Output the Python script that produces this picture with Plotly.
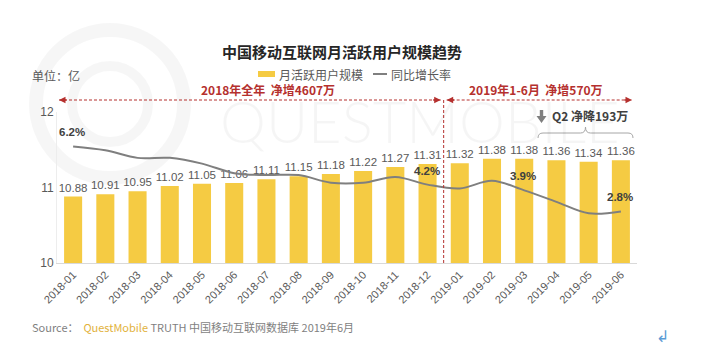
import plotly.graph_objects as go

months = ["2018-01", "2018-02", "2018-03", "2018-04", "2018-05", "2018-06",
          "2018-07", "2018-08", "2018-09", "2018-10", "2018-11", "2018-12",
          "2019-01", "2019-02", "2019-03", "2019-04", "2019-05", "2019-06"]
mau = [10.88, 10.91, 10.95, 11.02, 11.05, 11.06, 11.11, 11.15, 11.18, 11.22,
       11.27, 11.31, 11.32, 11.38, 11.38, 11.36, 11.34, 11.36]
growth = [6.2, 6.0, 5.6, 5.6, 5.3, 4.8, 4.7, 4.7, 4.3, 4.3, 4.6, 4.2,
          4.0, 4.4, 3.9, 3.3, 2.7, 2.8]
growth_labels = {0: "6.2%", 11: "4.2%", 14: "3.9%", 17: "2.8%"}

FONT = "Liberation Sans, Noto Sans CJK SC, sans-serif"
CJK = "Noto Sans CJK SC, sans-serif"
RED = "#B5302E"
GREY = "#595959"
BAR = "#F5CB43"
LINE = "#7F7F7F"

# plot area in pixels: x 57..637, y 112..263
L, R, T, B = 57, 637, 112, 263
W, H = 710, 354


def px(x):
    return (x - L) / (R - L)


def py(y):
    return (B - y) / (B - T)


def note(x, y, text, size=12, color=GREY, family=CJK, xanchor="center", **kw):
    return dict(x=px(x), y=py(y), xref="paper", yref="paper", text=text, showarrow=False,
                xanchor=xanchor, yanchor="middle", font=dict(size=size, color=color, family=family), **kw)


fig = go.Figure()
fig.add_trace(go.Bar(
    x=months, y=mau, name="月活跃用户规模",
    marker=dict(color=BAR, line=dict(width=0)),
    text=[f"{v:.2f}" for v in mau], textposition="outside", constraintext="none",
    textfont=dict(size=11.5, color=GREY, family=FONT), cliponaxis=False,
))
fig.add_trace(go.Scatter(
    x=months, y=growth, name="同比增长率", yaxis="y2", mode="lines",
    line=dict(color=LINE, width=2, shape="spline", smoothing=1.0),
))

annotations = []
for i, lab in growth_labels.items():
    annotations.append(dict(x=months[i], y=growth[i], xref="x", yref="y2", text=f"<b>{lab}</b>",
                            showarrow=False, yshift=14, xshift=-1, yanchor="middle",
                            font=dict(size=11.5, color="#404040", family=FONT)))

annotations += [
    note(30, 76, "单位：亿", xanchor="left"),
    note(268, 90, "<b>2018年全年  净增4607万</b>", color=RED),
    note(536, 90, "<b>2019年1-6月  净增570万</b>", color=RED),
    note(550, 115, "<b>Q2 净降193万</b>", color="#404040", xanchor="left"),
    note(30, 327,
         "Source：  <span style='color:#E2B23C'>QuestMobile</span> TRUTH 中国移动互联网数据库 2019年6月",
         size=11, color="#7F7F7F", xanchor="left"),
    note(662, 336, "↲", size=16, color="#5B9BD5", family="DejaVu Sans"),
    note(420, 120, "QUESTMOBILE", size=58, color="rgba(0,0,0,0.04)", family="Lato"),
    # custom legend texts
    note(277, 74, "月活跃用户规模", xanchor="left"),
    note(389, 74, "同比增长率", xanchor="left"),
]
annotations[-3]["font"]["weight"] = 300

# category boundary between 2018-12 and 2019-01, in paper units
split = (months.index("2019-01")) / len(months)
split_px = L + split * (R - L)

# arrowheads
ya = py(100)
for xtip, ax in [(px(59), 9), (px(split_px - 3), -9), (px(split_px + 3), 9), (px(632), -9)]:
    annotations.append(dict(x=xtip, y=ya, xref="paper", yref="paper", text="", showarrow=True,
                            ax=ax, ay=0, arrowhead=2, arrowsize=1, arrowwidth=1.3, arrowcolor=RED))

shapes = [
    dict(type="line", xref="paper", yref="paper", x0=px(59), x1=px(split_px - 3), y0=ya, y1=ya,
         line=dict(color=RED, width=1, dash="3px,2px")),
    dict(type="line", xref="paper", yref="paper", x0=px(split_px + 3), x1=px(632), y0=ya, y1=ya,
         line=dict(color=RED, width=1, dash="3px,2px")),
    dict(type="line", xref="paper", yref="paper", x0=split, x1=split, y0=0, y1=ya,
         line=dict(color=RED, width=1, dash="3px,2px")),
    # custom legend symbols
    dict(type="rect", xref="paper", yref="paper", x0=px(258), x1=px(275), y0=py(77), y1=py(71),
         fillcolor=BAR, line=dict(width=0)),
    dict(type="line", xref="paper", yref="paper", x0=px(373), x1=px(387), y0=py(74), y1=py(74),
         line=dict(color=LINE, width=2)),
]
# down arrow icon
ax0, ax1, axm = 536.5, 546.5, 541.5
shapes.append(dict(type="path", xref="paper", yref="paper",
                   path=(f"M {px(539.8)},{py(110)} L {px(543.2)},{py(110)} L {px(543.2)},{py(116)} "
                         f"L {px(ax1)},{py(116)} L {px(axm)},{py(123)} L {px(ax0)},{py(116)} "
                         f"L {px(539.8)},{py(116)} Z"),
                   fillcolor="#7F7F7F", line=dict(width=0)))
# brace
x0b, xmb, x1b = 538, 585.5, 633
ye, ymid, ypk = py(138), py(133), py(127)
d = 5
shapes.append(dict(type="path", xref="paper", yref="paper",
                   path=(f"M {px(x0b)},{ye} Q {px(x0b)},{ymid} {px(x0b + d)},{ymid} "
                         f"L {px(xmb - d)},{ymid} Q {px(xmb)},{ymid} {px(xmb)},{ypk} "
                         f"Q {px(xmb)},{ymid} {px(xmb + d)},{ymid} L {px(x1b - d)},{ymid} "
                         f"Q {px(x1b)},{ymid} {px(x1b)},{ye}"),
                   line=dict(color="#A6A6A6", width=1)))
# faint logo rings (watermark)
for cx, cy, r, w in [(110, 104, 74, 14), (110, 104, 38, 10)]:
    shapes.append(dict(type="circle", xref="paper", yref="paper", layer="below",
                       x0=px(cx - r), x1=px(cx + r), y0=py(cy + r), y1=py(cy - r),
                       line=dict(color="rgba(0,0,0,0.035)", width=w)))

fig.update_layout(
    width=W, height=H,
    margin=dict(l=L, r=W - R, t=T, b=H - B),
    paper_bgcolor="white", plot_bgcolor="rgba(0,0,0,0)",
    font=dict(family=FONT, color=GREY, size=12),
    title=dict(text="<b>中国移动互联网月活跃用户规模趋势</b>", x=342 / W, xanchor="center",
               y=1 - 53 / H, yanchor="middle", font=dict(size=15, color="#262626", family=CJK)),
    bargap=0.44,
    showlegend=False,
    xaxis=dict(type="category", tickangle=-45, showgrid=False, showline=True,
               linecolor="#D9D9D9", linewidth=1, ticks="",
               tickfont=dict(size=11, color=GREY, family=FONT)),
    yaxis=dict(range=[10, 12], tickvals=[10, 11, 12], showgrid=False, zeroline=False,
               showline=True, linecolor="#EDEDED", ticks="",
               tickfont=dict(size=12, color=GREY, family=FONT)),
    yaxis2=dict(range=[0.1, 8.0], overlaying="y", side="right", visible=False),
    annotations=annotations,
    shapes=shapes,
)

fig.write_html("out.html")
